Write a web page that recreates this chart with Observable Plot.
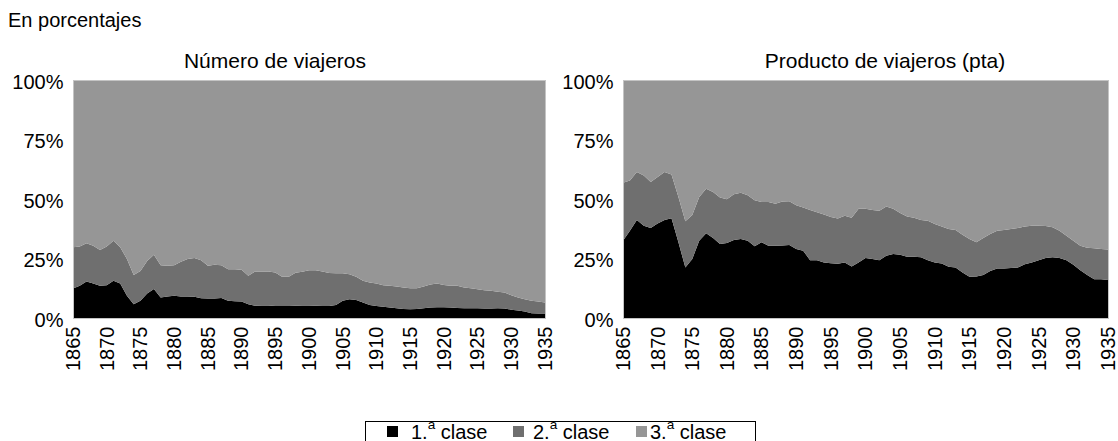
<!DOCTYPE html>
<html><head><meta charset="utf-8">
<script src="https://cdn.jsdelivr.net/npm/d3@7"></script>
<script src="https://cdn.jsdelivr.net/npm/@observablehq/plot@0.6"></script>
<style>
html,body{margin:0;padding:0;background:#fff;}
body{position:relative;width:1118px;height:441px;overflow:hidden;font-family:"Liberation Sans",Arial,Helvetica,sans-serif;color:#000;}
.t{position:absolute;font-size:20px;line-height:20px;white-space:nowrap;}
.c{width:300px;text-align:center;font-size:21px;line-height:21px;}
.p{position:absolute;top:50px;}
#legend{position:absolute;left:365px;top:421px;width:391px;height:60px;border:1px solid #000;box-sizing:border-box;}
#legend .sq{position:absolute;top:4px;width:11px;height:11px;}
#legend .lt{position:absolute;top:0px;font-size:20px;line-height:20px;white-space:nowrap;}
#legend sup{font-size:0.68em;line-height:0;position:relative;top:-0.15em;vertical-align:super;}
</style></head><body>
<div class="t" style="left:8px;top:10px">En porcentajes</div>
<div class="t c" style="left:125px;top:50px">Número de viajeros</div>
<div class="t c" style="left:735px;top:50px">Producto de viajeros (pta)</div>
<div class="p" id="left" style="left:0px"></div>
<div class="p" id="right" style="left:560px"></div>
<div id="legend"></div>
<script>
// ---- data (percentages) ----
const years = d3.range(1865, 1936);
const xTicks = [1865,1870,1875,1880,1885,1890,1895,1900,1905,1910,1915,1920,1925,1930,1935];
const yTicks = [0,25,50,75,100];
const clases = ["1.ª clase","2.ª clase","3.ª clase"];
const colores = ["#000000","#6f6f6f","#969696"];

// Número de viajeros: 1.ª clase share, and 1.ª+2.ª cumulative share
const numPrimera = [12.4,13.5,15.3,14.5,13.5,13.8,15.6,14.5,9.3,5.8,
 7.2,10.3,12.2,8.6,9.0,9.3,9.0,9.0,8.9,8.3,
 8.2,8.2,8.4,7.2,7.0,6.9,5.8,5.1,5.2,5.3,
 5.0,5.0,5.0,5.1,5.2,5.3,5.1,5.0,5.0,5.5,
 7.2,7.9,7.6,6.5,5.5,5.0,4.7,4.4,4.1,3.8,
 3.7,3.8,4.1,4.4,4.5,4.5,4.4,4.2,4.1,4.1,
 4.1,4.0,4.0,4.1,4.0,3.5,3.1,2.7,2.0,1.9,1.9];
const numHastaSegunda = [29.7,30.0,31.4,30.4,28.6,30.0,32.5,29.7,24.8,18.1,
 19.8,24.0,26.6,22.2,22.0,22.2,23.6,24.8,25.2,24.3,
 22.0,22.4,22.2,20.5,20.5,20.3,17.7,19.5,19.5,19.5,
 19.1,17.3,17.3,19.0,19.4,20.1,20.1,19.5,18.9,18.8,
 18.8,18.4,17.3,15.6,14.9,14.5,13.8,13.5,13.2,12.8,
 12.5,12.5,13.2,14.1,14.5,13.9,13.5,13.5,12.8,12.5,
 12.1,11.7,11.4,11.0,10.7,9.6,8.6,7.9,7.2,6.9,6.5];

// Producto de viajeros (pta)
const prodPrimera = [32.5,36.7,41.2,38.8,37.8,39.7,41.2,41.9,31.8,21.2,
 24.8,32.5,35.6,33.6,31.1,31.5,32.8,33.2,32.5,30.1,
 31.8,30.4,30.4,30.5,30.7,29.0,28.3,24.3,24.3,23.3,
 23.0,22.8,23.3,21.6,23.3,25.2,24.8,24.3,26.2,26.9,
 26.6,25.7,25.7,25.5,24.3,23.3,22.9,21.5,21.2,19.1,
 17.3,17.4,18.1,19.8,20.8,20.8,21.0,21.2,22.6,23.3,
 24.3,25.2,25.5,25.2,24.3,22.4,20.1,18.1,16.3,16.3,16.0];
const prodHastaSegunda = [56.8,57.8,61.3,59.9,57.1,59.2,61.3,60.3,50.8,40.6,
 43.3,50.8,54.3,52.9,50.6,49.9,52.0,52.6,51.6,49.5,
 48.7,48.7,48.0,49.0,49.1,47.4,46.4,45.4,44.4,43.5,
 42.4,41.8,43.0,42.1,45.9,45.9,45.4,45.1,46.8,45.9,
 44.1,42.6,42.1,41.2,40.9,39.5,38.4,37.4,37.0,35.0,
 33.2,31.8,33.6,35.3,36.7,37.0,37.4,37.8,38.4,38.8,
 38.8,38.7,38.1,36.7,34.6,32.5,30.4,29.5,29.3,29.0,28.8];

function rowsFrom(p1, p12) {
  const rows = [];
  years.forEach((yr, i) => {
    rows.push({year: yr, clase: clases[0], v: p1[i]});
    rows.push({year: yr, clase: clases[1], v: p12[i] - p1[i]});
    rows.push({year: yr, clase: clases[2], v: 100 - p12[i]});
  });
  return rows;
}

function panel(p1, p12, width, marginLeft, marginRight) {
  return Plot.plot({
    width, height: 340,
    marginTop: 30, marginBottom: 72, marginLeft, marginRight,
    x: {domain: [1865, 1935]},
    y: {domain: [0, 100]},
    color: {domain: clases, range: colores},
    style: {fontSize: "20px", fontFamily: '"Liberation Sans", Arial, sans-serif', background: "transparent", overflow: "visible", color: "#000"},
    marks: [
      Plot.areaY(rowsFrom(p1, p12), {x: "year", y: "v", fill: "clase", order: clases}),
      Plot.frame({stroke: "#c4c4c4"}),
      Plot.axisY({ticks: yTicks, tickFormat: d => d + "%", tickSize: 0, tickPadding: 10, dy: 2, label: null, fontSize: 20}),
      Plot.axisX({ticks: xTicks, tickFormat: d => String(d), tickRotate: -90, tickSize: 0, tickPadding: 8, label: null, fontSize: 20})
    ]
  });
}

document.getElementById("left").appendChild(panel(numPrimera, numHastaSegunda, 560, 73, 15));
document.getElementById("right").appendChild(panel(prodPrimera, prodHastaSegunda, 558, 63, 10));

// legend
const lg = document.getElementById("legend");
const sqX = [21, 147, 270];
const txX = [45, 167, 284];
clases.forEach((c, i) => {
  const s = document.createElement("div");
  s.className = "sq"; s.style.left = sqX[i] + "px"; s.style.background = colores[i];
  lg.appendChild(s);
  const t = document.createElement("div");
  t.className = "lt"; t.style.left = txX[i] + "px";
  const [num, rest] = c.split(".ª");
  t.innerHTML = num + ".<sup>a</sup>" + rest;
  lg.appendChild(t);
});
</script>
</body></html>
